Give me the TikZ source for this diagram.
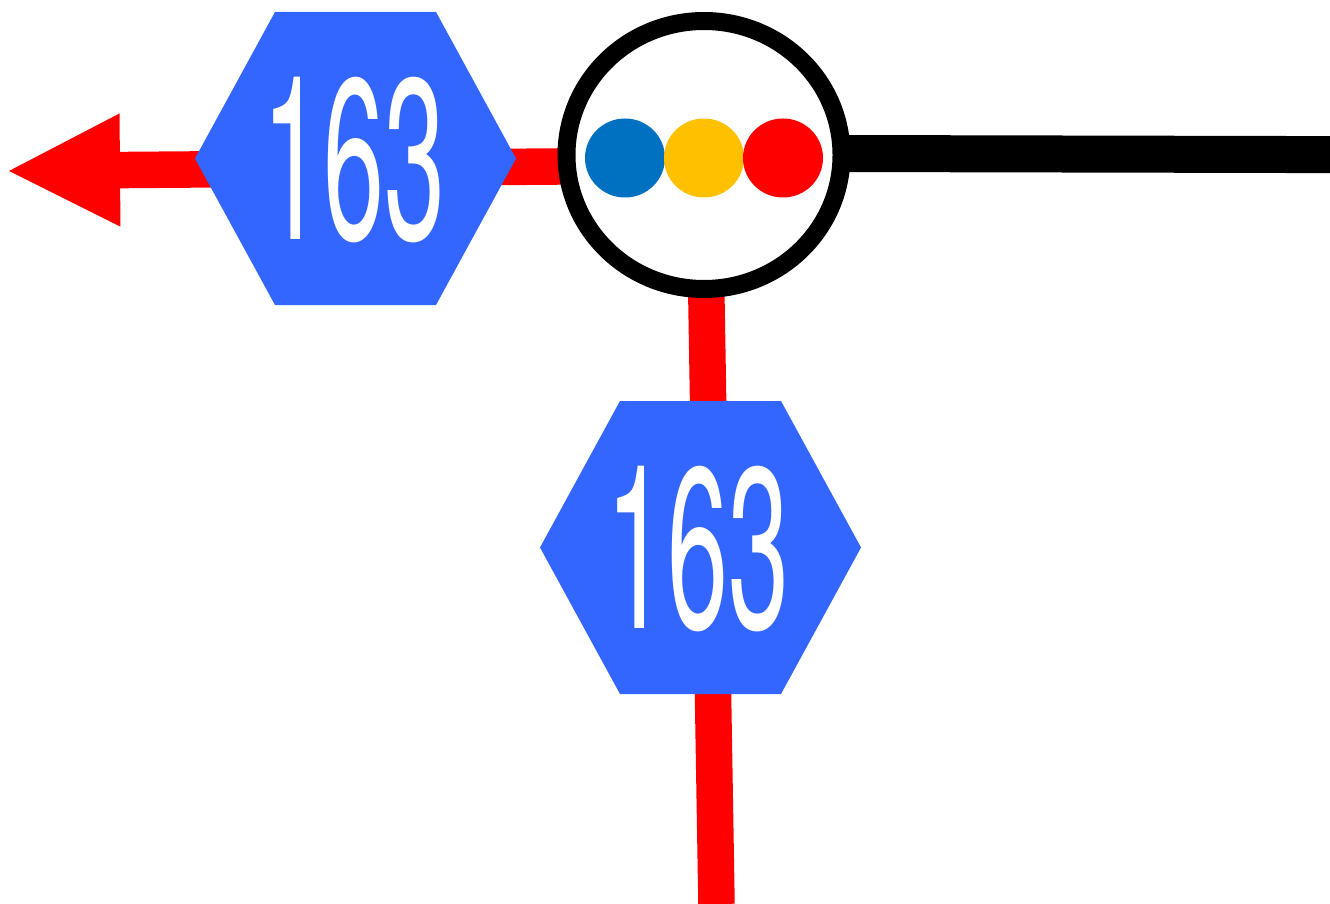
\documentclass[tikz,border=0pt]{standalone}
\usepackage{fontspec}
\setmainfont{TeX Gyre Heros}
\newfontfamily\signfont{TeX Gyre Heros}
\usetikzlibrary{arrows.meta,backgrounds,shapes.geometric}
\definecolor{hexblue}{HTML}{3366FF}
\definecolor{dotblue}{HTML}{0070C0}
\definecolor{dotamber}{HTML}{FFC000}
\tikzset{
  x=1pt,y=-1pt,
  redline/.style={draw=red,line width=36.5pt},
  blackline/.style={draw=black,line width=37pt},
  ringnode/.style={ellipse,draw=black,fill=white,line width=18pt,minimum width=275pt,minimum height=268pt,inner sep=0pt,outer sep=0pt},
  dotnode/.style={ellipse,minimum width=80pt,minimum height=79pt,inner sep=0pt,outer sep=0pt},
  hexfill/.style={fill=hexblue},
  hexlabel/.style={text=white,inner sep=0pt,outer sep=0pt},
}
\newcommand{\routesign}{\scalebox{5.48}[11.45]{\signfont\fontsize{20pt}{20pt}\selectfont 163}}
\begin{document}
\begin{tikzpicture}
\useasboundingbox (0,0) rectangle (1330,904);
\node[ringnode] (ring) at (704,155) {};
\node[dotnode,fill=dotblue] (d1) at (625,158) {};
\node[dotnode,fill=dotamber] (d2) at (704,158) {};
\node[dotnode,fill=red] (d3) at (783,158) {};
\coordinate (hubw) at (704,165.3);
\coordinate (hube) at (704,153.2);
\coordinate (tipw) at (6,171);
\coordinate (ends) at (716.5,904);
\coordinate (ende) at (1330,154.6);
\begin{pgfonlayer}{background}
\draw[redline,-{Triangle[length=114pt,width=104pt]}] (hubw) -- (tipw);
\draw[redline] (ring.center) -- (ends);
\draw[blackline] (hube) -- (ende);
\end{pgfonlayer}
\fill[hexfill] (195,158.5) -- (275,12) -- (436,12) -- (516,158.5) -- (436,305) -- (275,305) -- cycle;
\node[hexlabel] (h1) at (354,160) {\routesign};
\fill[hexfill] (540,547.5) -- (620,401) -- (781,401) -- (861,547.5) -- (781,694) -- (620,694) -- cycle;
\node[hexlabel] (h2) at (698,549) {\routesign};
\end{tikzpicture}
\end{document}
